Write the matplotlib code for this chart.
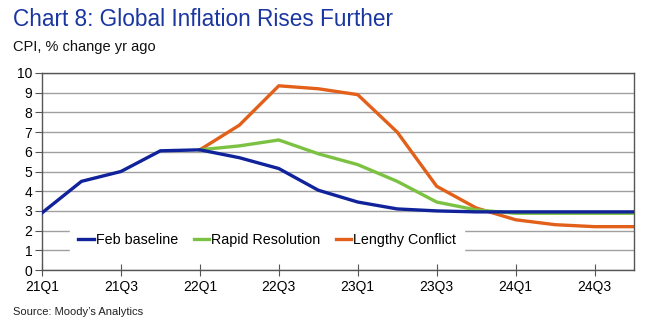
import numpy as np
import matplotlib
matplotlib.use("Agg")
import matplotlib.pyplot as plt

plt.rcParams['font.family'] = ['Liberation Sans', 'DejaVu Sans']

quarters = ['21Q1', '21Q2', '21Q3', '21Q4', '22Q1', '22Q2', '22Q3', '22Q4',
            '23Q1', '23Q2', '23Q3', '23Q4', '24Q1', '24Q2', '24Q3', '24Q4']
feb_baseline = [2.9, 4.5, 5.0, 6.05, 6.1, 5.7, 5.15, 4.05,
                3.45, 3.1, 3.0, 2.95, 2.95, 2.95, 2.95, 2.95]
# scenarios start at 22Q1
rapid_resolution = [None, None, None, None, 6.1, 6.3, 6.6, 5.9,
                    5.35, 4.5, 3.45, 3.05, 2.88, 2.88, 2.88, 2.88]
lengthy_conflict = [None, None, None, None, 6.1, 7.35, 9.35, 9.2,
                    8.9, 7.0, 4.25, 3.15, 2.55, 2.3, 2.2, 2.2]
tick_labels = ['21Q1', '21Q3', '22Q1', '22Q3', '23Q1', '23Q3', '24Q1', '24Q3']

x = np.arange(len(quarters))
def arr(v):
    return np.array([np.nan if a is None else a for a in v])

fig = plt.figure(figsize=(6.52, 3.35), dpi=100)
ax = fig.add_axes([42/652, 65/335, (634-42)/652, (270-73)/335])

ax.plot(x, arr(feb_baseline), color='#10239a', lw=2.4, label='Feb baseline', zorder=4)
ax.plot(x, arr(rapid_resolution), color='#7cc242', lw=2.4, label='Rapid Resolution', zorder=3)
ax.plot(x, arr(lengthy_conflict), color='#e2601a', lw=2.4, label='Lengthy Conflict', zorder=2)

ax.set_xlim(0, 15)
ax.set_ylim(0, 10)
ax.set_yticks(range(0, 11))
ax.set_xticks([quarters.index(t) for t in tick_labels])
ax.set_xticklabels(tick_labels)
ax.yaxis.grid(True, color='#a0a0a0', lw=1)
ax.set_axisbelow(True)
for s in ax.spines.values():
    s.set_color('#555555')
    s.set_linewidth(1.0)
ax.tick_params(axis='y', direction='out', length=5, color='#555555', labelsize=10, pad=2)
ax.tick_params(axis='x', direction='inout', length=8, color='#555555', labelsize=10, pad=3)

leg = ax.legend(loc='lower left', bbox_to_anchor=(0.035, 0.035), ncol=3, frameon=True,
                fancybox=False, edgecolor='white', facecolor='white', framealpha=1,
                fontsize=10.3, handlelength=1.1, handletextpad=0.1, columnspacing=1.1,
                borderpad=0.6)

fig.text(13/652, 1 - 20/335, 'Chart 8: Global Inflation Rises Further', color='#1a36a0',
         fontsize=16.3, va='center', ha='left')
fig.text(13/652, 1 - 47/335, 'CPI, % change yr ago', color='#111111',
         fontsize=10.5, va='center', ha='left')
fig.text(13/652, 1 - 312/335, "Source: Moody\u2019s Analytics", color='#222222',
         fontsize=8, va='center', ha='left')

fig.savefig('out.png', dpi=100)
